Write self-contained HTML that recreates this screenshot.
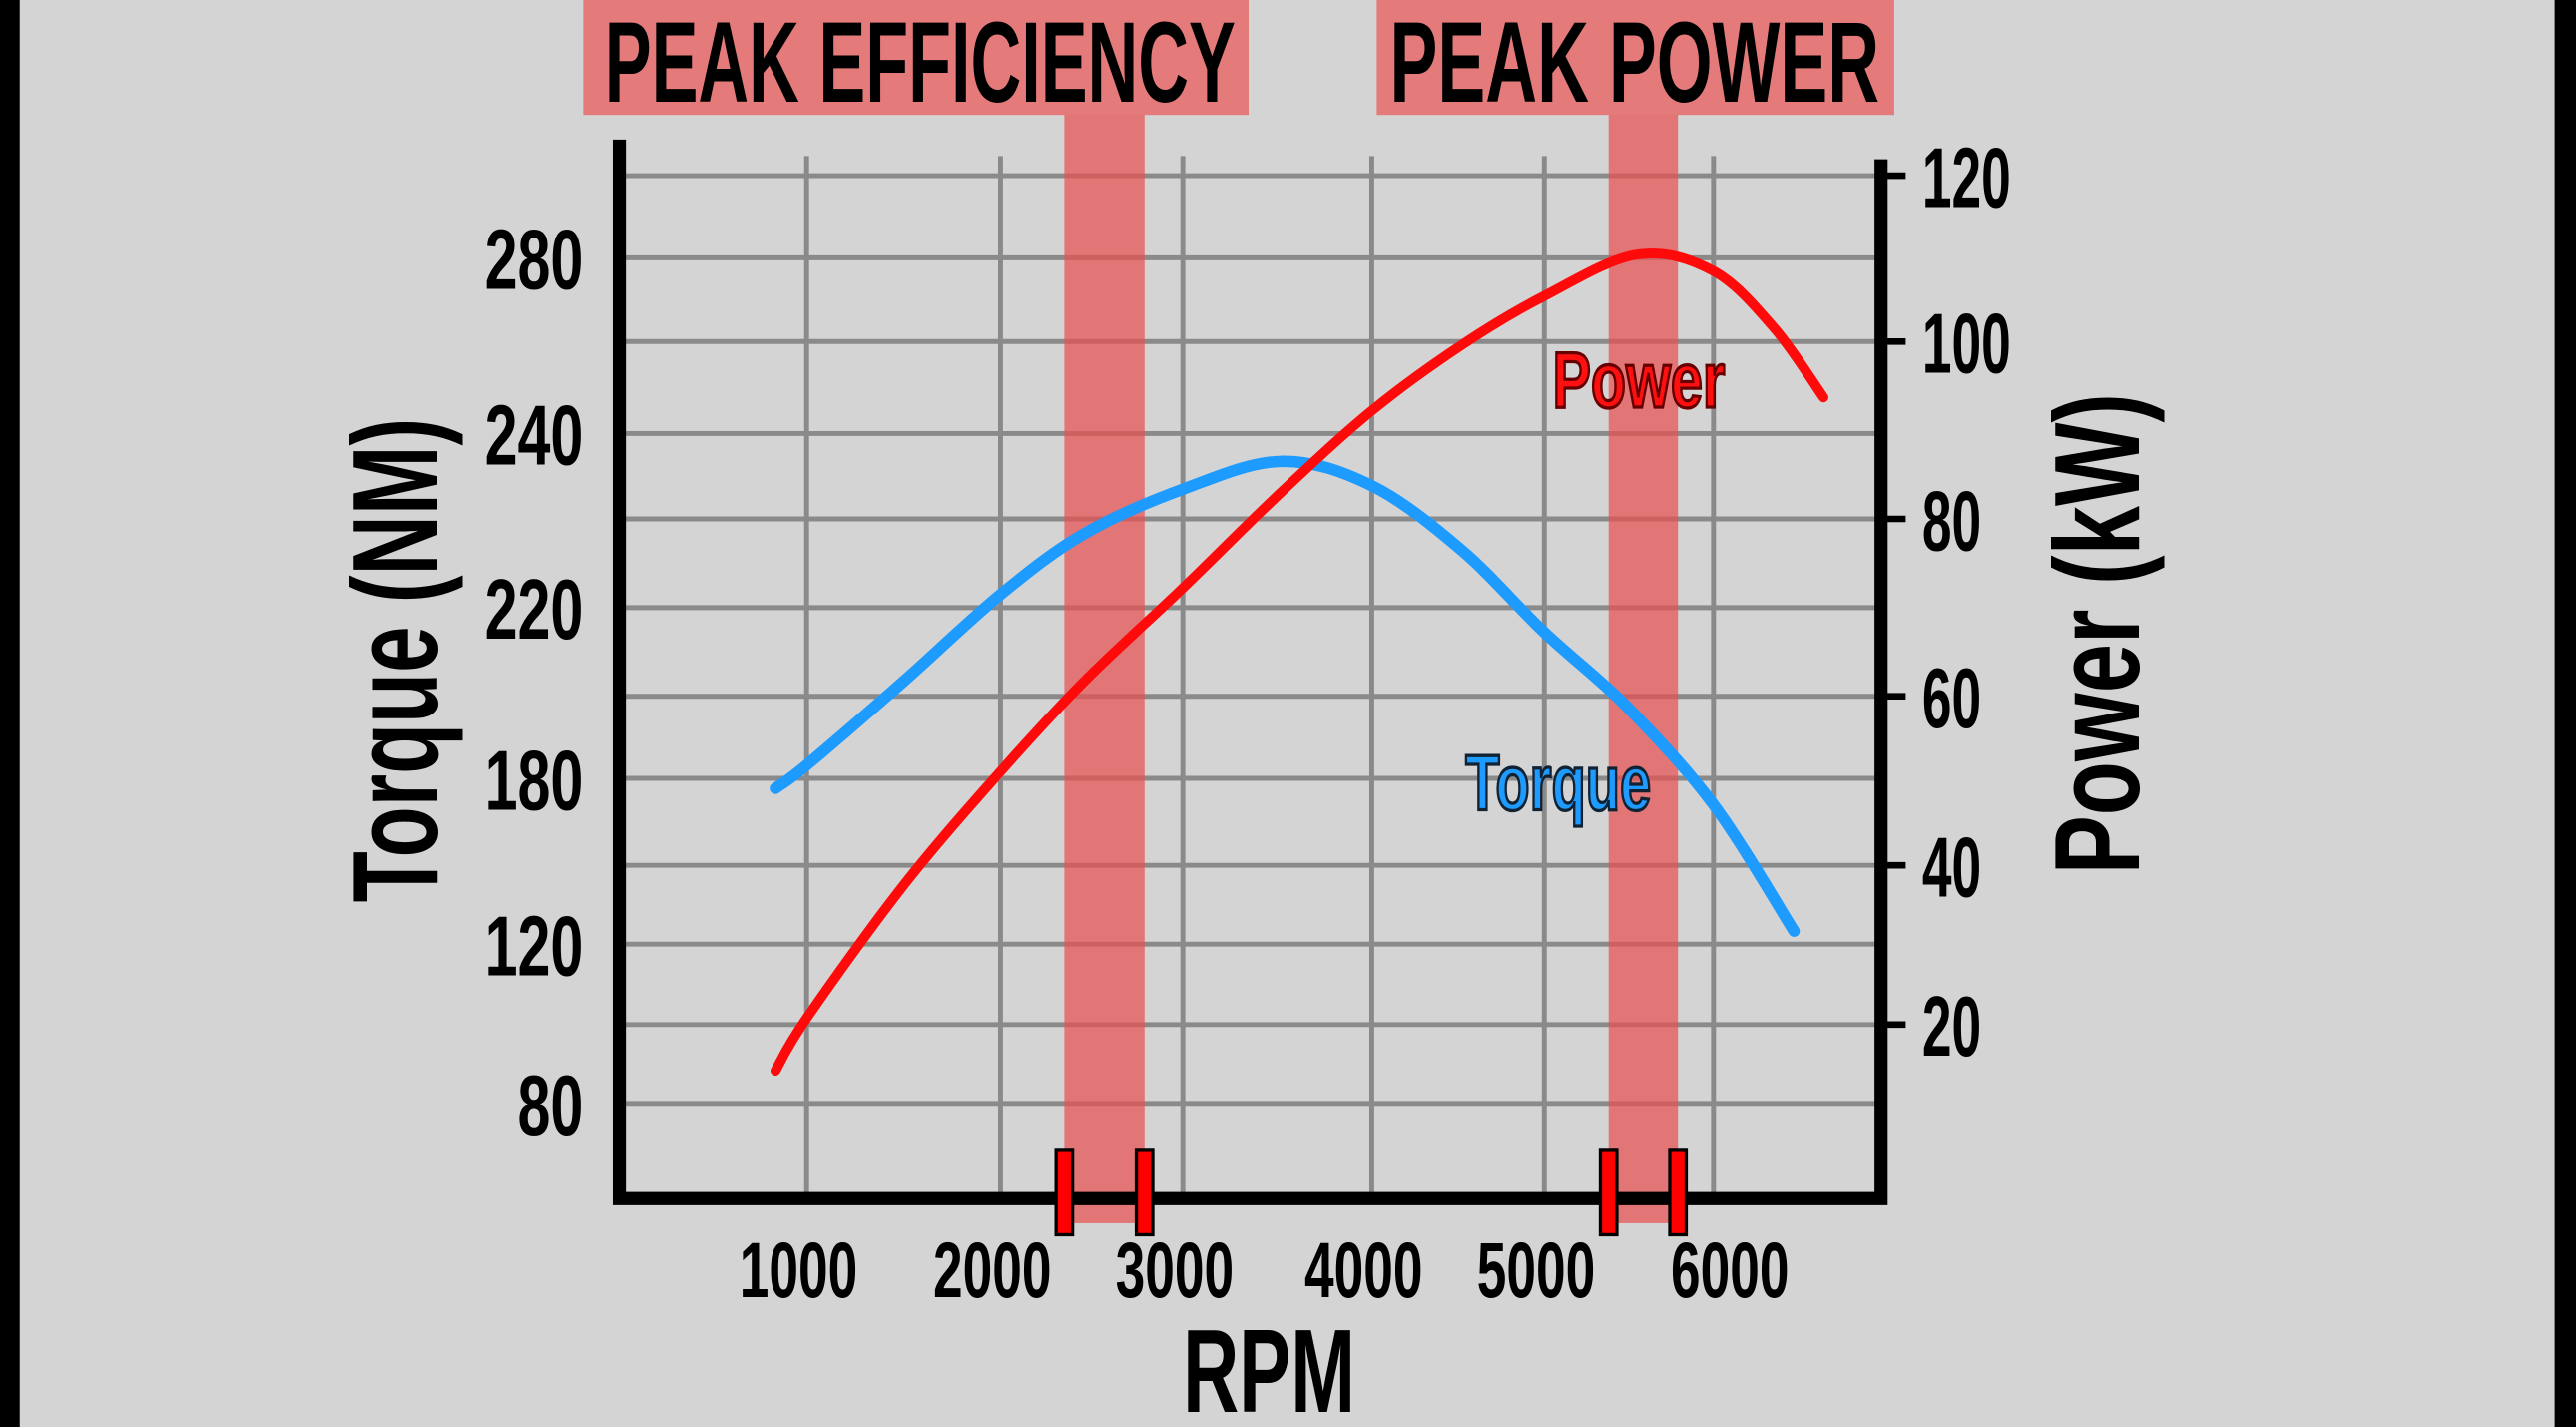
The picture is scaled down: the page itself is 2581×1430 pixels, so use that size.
<!DOCTYPE html>
<html><head><meta charset="utf-8"><style>
html,body{margin:0;padding:0;background:#000;}
svg{display:block;}
text{font-family:"Liberation Sans Narrow","Liberation Sans",sans-serif;font-weight:bold;fill:#000;}
</style></head><body>
<svg id="chart" width="2581" height="1430" viewBox="0 0 1568 869" preserveAspectRatio="none" xmlns="http://www.w3.org/2000/svg">
<rect x="0" y="0" width="1568" height="869" fill="#000"/>
<rect x="12" y="0" width="1543" height="869" fill="#d4d4d4"/>
<g id="grid"></g>
<g id="bands"></g>
<g id="curves"></g>
<g id="axes"></g>
<g id="labels"></g>
</svg>
<script>
// ---- data ----
const rpmTicks = [1000, 2000, 3000, 4000, 5000, 6000];
const torqueTicks = [280, 240, 220, 180, 120, 80];
const powerTicks = [120, 100, 80, 60, 40, 20];
const torqueRpm = [839, 1000, 1500, 2000, 2460, 3000, 3520, 4000, 4520, 5000, 5485, 6000, 6476];
const torqueVals = [176.4, 183.1, 202.7, 221.5, 228.5, 233.6, 236.8, 234.0, 226.6, 214.2, 196.9, 170.5, 124.7];
const powerRpm = [839, 1000, 1500, 2000, 2460, 3000, 3520, 4000, 4520, 5000, 5550, 6000, 6360, 6650];
const powerVals = [14.2, 20.8, 37.5, 51.1, 61.7, 72.2, 83.0, 92.2, 99.6, 105.5, 110.5, 108.5, 101.6, 93.7];
const effBand = [2350, 2790];
const powBand = [5380, 5790];

// ---- axis functions (piecewise, matching the reference's uneven axis) ----
const rpmPx = [491, 609, 720, 835, 940, 1043];
const torquePx = [157, 264, 370, 474, 575, 672];
const powerPx = [107, 208, 316, 424, 527, 624];
function interp(v, dom, rng){
  let i = 0;
  if (dom[0] > dom[dom.length-1]) {
    while (i < dom.length-2 && v < dom[i+1]) i++;
  } else {
    while (i < dom.length-2 && v > dom[i+1]) i++;
  }
  const t = (v - dom[i]) / (dom[i+1] - dom[i]);
  return rng[i] + t * (rng[i+1] - rng[i]);
}
const X = v => interp(v, rpmTicks, rpmPx);
const YT = v => interp(v, torqueTicks, torquePx);
const YP = v => interp(v, powerTicks, powerPx);

const NS = "http://www.w3.org/2000/svg";
function mk(tag, attrs, parent){
  const e = document.createElementNS(NS, tag);
  for (const k in attrs) e.setAttribute(k, attrs[k]);
  parent.appendChild(e);
  return e;
}
const grid = document.getElementById('grid');
const bands = document.getElementById('bands');
const curves = document.getElementById('curves');
const axes = document.getElementById('axes');
const labels = document.getElementById('labels');

const hLines = [107,157,208,264,316,370,424,474,527,575,624,672];
hLines.forEach(y => {
  const l = mk('line', {x1:377, x2:1145, y1:y, y2:y, stroke:'#8a8a8a', 'stroke-width':3}, grid);
  
  
});
rpmTicks.forEach(r => {
  const l = mk('line', {x1:X(r), x2:X(r), y1:95, y2:730, stroke:'#8a8a8a', 'stroke-width':3}, grid);
  
  
});

function smoothPath(pts){
  let d = `M${pts[0][0]},${pts[0][1]}`;
  for (let i = 0; i < pts.length-1; i++){
    const p0 = pts[Math.max(0,i-1)], p1 = pts[i], p2 = pts[i+1], p3 = pts[Math.min(pts.length-1,i+2)];
    const c1 = [p1[0]+(p2[0]-p0[0])/6, p1[1]+(p2[1]-p0[1])/6];
    const c2 = [p2[0]-(p3[0]-p1[0])/6, p2[1]-(p3[1]-p1[1])/6];
    d += ` C${c1[0]},${c1[1]} ${c2[0]},${c2[1]} ${p2[0]},${p2[1]}`;
  }
  return d;
}
const tPts = torqueRpm.map((r,i)=>[X(r), YT(torqueVals[i])]);
const pPts = powerRpm.map((r,i)=>[X(r), YP(powerVals[i])]);
const tc = mk('path', {d:smoothPath(tPts), fill:'none', stroke:'#1e9bff', 'stroke-width':7, 'stroke-linecap':'round'}, curves);


const pc = mk('path', {d:smoothPath(pPts), fill:'none', stroke:'#ff0a0a', 'stroke-width':6, 'stroke-linecap':'round'}, curves);



[[effBand,'peak-efficiency-band'],[powBand,'peak-power-band']].forEach(([b,n]) => {
  const r = mk('rect', {x:X(b[0]), y:62, width:X(b[1])-X(b[0]), height:683, fill:'rgba(232,80,80,0.72)'}, bands);
  
  
});
const hb1 = mk('rect', {x:355, y:0, width:405, height:70, fill:'#e47a7a'}, bands);


const hb2 = mk('rect', {x:838, y:0, width:315, height:70, fill:'#e47a7a'}, bands);



const ax = mk('path', {d:'M377,85 L377,730 L1145,730 L1145,97', fill:'none', stroke:'#000', 'stroke-width':8}, axes);


powerTicks.forEach(v => {
  const l = mk('line', {x1:1145, x2:1160, y1:YP(v), y2:YP(v), stroke:'#000', 'stroke-width':4}, axes);
  
  
});
[effBand[0], effBand[1], powBand[0], powBand[1]].forEach(r => {
  const m = mk('rect', {x:X(r)-5, y:700, width:10, height:52, fill:'#ff0000', stroke:'#000', 'stroke-width':2}, axes);
  
  
});

function txt(s, attrs, name){
  const t = mk('text', attrs, labels);
  t.textContent = s;
  
  
  return t;
}
torqueTicks.forEach(v => {
  txt(String(v), {x:355, y:YT(v)+19, 'font-size':52, 'text-anchor':'end', textLength:String(v).length*20, lengthAdjust:'spacingAndGlyphs'}, 'left-tick-label');
});
powerTicks.forEach(v => {
  txt(String(v), {x:1170, y:YP(v)+19, 'font-size':52, textLength:String(v).length*18, lengthAdjust:'spacingAndGlyphs'}, 'right-tick-label');
});
rpmTicks.forEach(v => {
  txt(String(v), {x:X(v)+(v===6000?10:-5), y:790, 'font-size':48, 'text-anchor':'middle', textLength:72, lengthAdjust:'spacingAndGlyphs'}, 'x-tick-label');
});
txt('PEAK EFFICIENCY', {x:368, y:62, 'font-size':70, textLength:384, lengthAdjust:'spacingAndGlyphs'}, 'peak-efficiency-title');
txt('PEAK POWER', {x:846, y:62, 'font-size':70, textLength:298, lengthAdjust:'spacingAndGlyphs'}, 'peak-power-title');
txt('RPM', {x:720, y:860, 'font-size':72, textLength:105, lengthAdjust:'spacingAndGlyphs'}, 'x-axis-title');
txt('Torque (NM)', {x:0, y:0, 'font-size':74, 'text-anchor':'middle', textLength:295, lengthAdjust:'spacingAndGlyphs', transform:'translate(266,402) rotate(-90)'}, 'left-axis-title');
txt('Power (kW)', {x:0, y:0, 'font-size':74, 'text-anchor':'middle', textLength:293, lengthAdjust:'spacingAndGlyphs', transform:'translate(1302,386) rotate(-90)'}, 'right-axis-title');
const pl = txt('Power', {x:945, y:248, 'font-size':48, textLength:105, lengthAdjust:'spacingAndGlyphs', stroke:'#600', 'stroke-width':2}, 'power-series-label');
pl.style.fill = '#ff1010';
const tl = txt('Torque', {x:892, y:493, 'font-size':48, textLength:113, lengthAdjust:'spacingAndGlyphs', stroke:'#123', 'stroke-width':2}, 'torque-series-label');
tl.style.fill = '#1e9bff';
</script>
</body></html>
